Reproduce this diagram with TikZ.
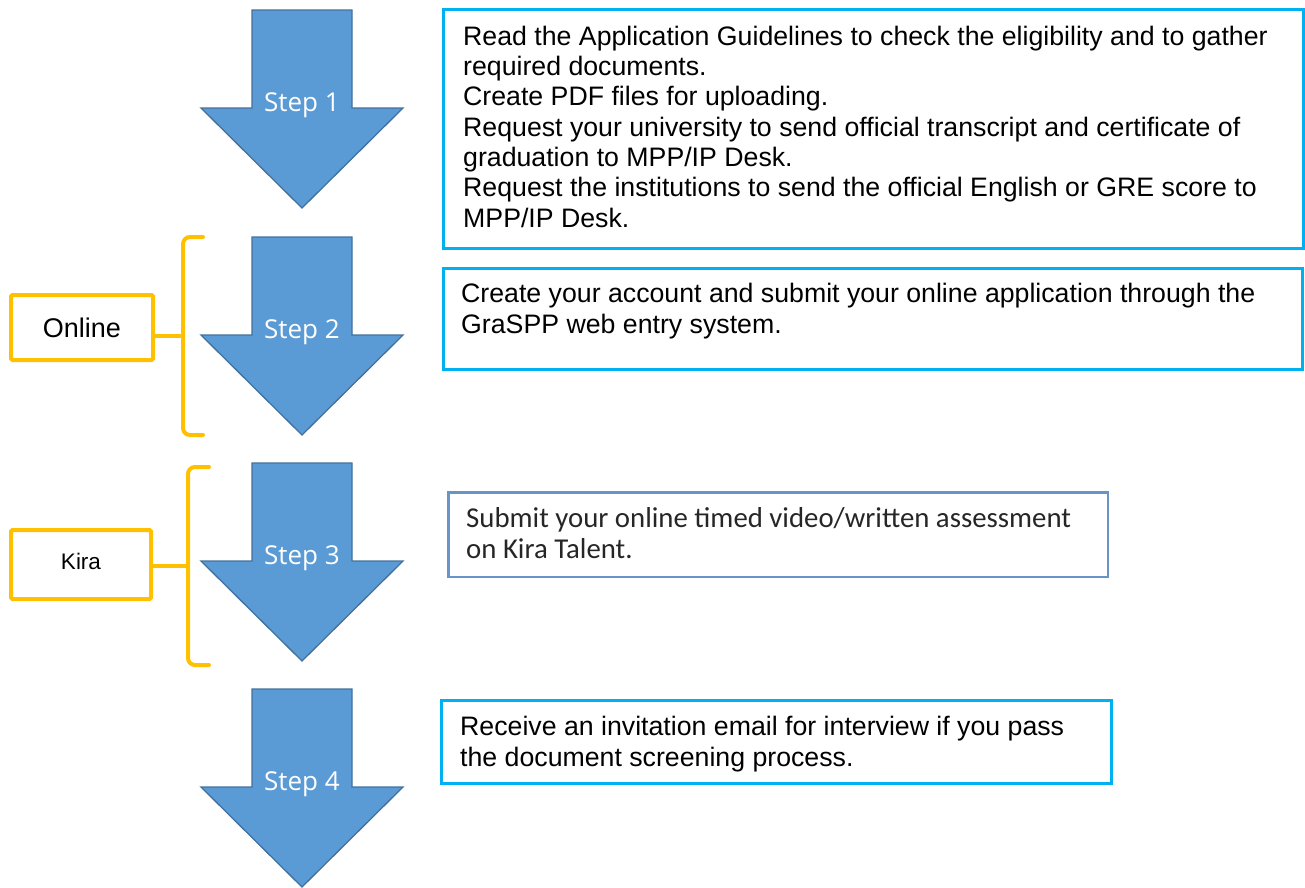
\documentclass[tikz,border=0pt]{standalone}
\usepackage{fontspec}
\setmainfont{Liberation Sans}
\newfontfamily\calfont{Carlito}
\newfontfamily\segfont{Open Sans}
\definecolor{stepblue}{RGB}{91,155,213}
\definecolor{stepedge}{RGB}{65,113,156}
\definecolor{boxcyan}{RGB}{0,176,240}
\definecolor{boxsteel}{RGB}{104,148,199}
\definecolor{tagorange}{RGB}{255,192,0}
\begin{document}
\begin{tikzpicture}[x=1pt,y=-1pt,
  stepshape/.style={fill=stepblue,draw=stepedge,line width=1.3pt,line join=miter},
  steplabel/.style={font=\segfont\fontsize{26}{30}\selectfont,text=white,inner sep=0pt,anchor=base},
  infobox/.style={draw=boxcyan,line width=3pt,anchor=north west,inner sep=0pt},
  steelbox/.style={draw=boxsteel,line width=2.5pt,anchor=north west,inner sep=0pt},
  infotext/.style={anchor=base west,inner sep=0pt,align=left,font=\fontsize{26.7}{30.3}\selectfont},
  caltext/.style={anchor=base west,inner sep=0pt,align=left,font=\calfont\fontsize{28.8}{31}\selectfont,text={rgb,255:red,38;green,38;blue,38}},
  tagbox/.style={draw=tagorange,line width=4pt,anchor=north west,inner sep=0pt,rounded corners=1.5pt},
  bracketline/.style={draw=tagorange,line width=4pt,rounded corners=7pt,line cap=round}
]
\useasboundingbox (0,0) rectangle (1305,887);

% step arrows
\foreach \i/\t in {1/10,2/237,3/463,4/689}{
  \path[stepshape] (252,\t) -- (352,\t) -- (352,\t+98) -- (403,\t+98) -- (302,\t+198) -- (201,\t+98) -- (252,\t+98) -- cycle;
  \node[steplabel] (step\i) at (302,\t+101) {Step \i};
}

% info boxes (text nodes anchored at the baseline of their last line)
\node[infobox,minimum width=860pt,minimum height=239pt] (box1) at (442,8) {};
\node[infotext] (text1) at (463,227) {Read the Application Guidelines to check the eligibility and to gather\\required documents.\\Create PDF files for uploading.\\Request your university to send official transcript and certificate of\\graduation to MPP/IP Desk.\\Request the institutions to send the official English or GRE score to\\MPP/IP Desk.};

\node[infobox,minimum width=859pt,minimum height=101pt] (box2) at (442,267) {};
\node[infotext] (text2) at (461,333) {Create your account and submit your online application through the\\GraSPP web entry system.};

\node[steelbox,minimum width=659.5pt,minimum height=84.5pt] (box3) at (447,491) {};
\node[caltext] (text3) at (466,558) {Submit your online timed video/written assessment\\on Kira Talent.};

\node[infobox,minimum width=670pt,minimum height=83pt] (box4) at (440,699) {};
\node[infotext] (text4) at (460,766) {Receive an invitation email for interview if you pass\\the document screening process.};

% tags and brackets
\node[tagbox,minimum width=142pt,minimum height=65pt,font=\fontsize{27}{30}\selectfont] (online) at (9,293) {Online};
\coordinate (b1top) at (203,237);
\coordinate (b1mid) at (183,336);
\coordinate (b1bot) at (203,435);
\draw[bracketline] (b1top) -| (b1mid) |- (b1bot);
\draw[draw=tagorange,line width=4pt] (online.east |- b1mid) -- (b1mid);

\node[tagbox,minimum width=140pt,minimum height=69pt,font=\fontsize{22.5}{26}\selectfont] (kira) at (9,528) {\raisebox{7pt}{Kira}};
\coordinate (b2top) at (209,467);
\coordinate (b2mid) at (188,566);
\coordinate (b2bot) at (209,665);
\draw[bracketline] (b2top) -| (b2mid) |- (b2bot);
\draw[draw=tagorange,line width=4pt] (kira.east |- b2mid) -- (b2mid);
\end{tikzpicture}
\end{document}
